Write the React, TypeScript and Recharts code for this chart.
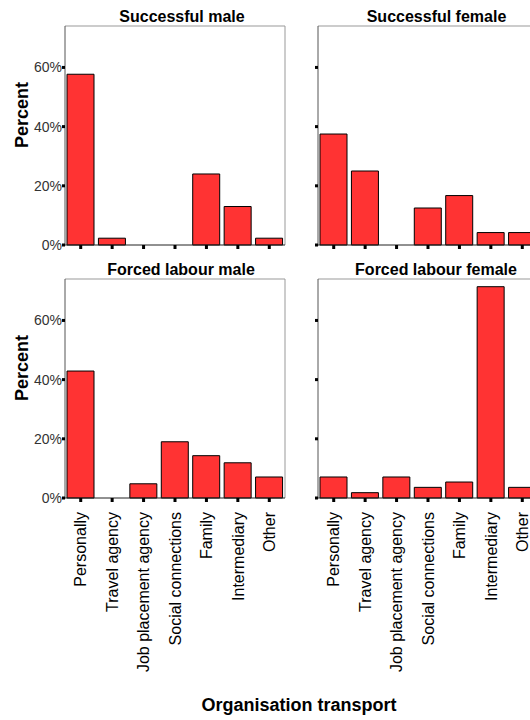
import { BarChart, Bar, XAxis, YAxis, CartesianGrid } from 'recharts';

// Organisation of transport, percent within each group
const categories = [
  'Personally',
  'Travel agency',
  'Job placement agency',
  'Social connections',
  'Family',
  'Intermediary',
  'Other',
];
const successfulMale = [57.7, 2.3, 0, 0, 24.0, 13.0, 2.3];
const successfulFemale = [37.5, 25.0, 0, 12.5, 16.7, 4.2, 4.2];
const forcedMale = [42.9, 0, 4.8, 19.0, 14.3, 11.9, 7.1];
const forcedFemale = [7.1, 1.8, 7.1, 3.6, 5.4, 71.4, 3.6];
const yTicks = [0, 20, 40, 60];
const yMax = 74;

const FONT = '"Liberation Sans", Arial, sans-serif';
const RED = '#ff3333';

const makeYTick = (showLabel: boolean) => (props: any) => {
  const { x, y, payload } = props;
  return (
    <g>
      <rect x={x - 3} y={y - 1.5} width={3} height={3} fill="#000" />
      {showLabel && (
        <text x={x - 3} y={y} dy="0.35em" textAnchor="end" fontSize={14} fontFamily={FONT} fill="#333">
          {payload.value}%
        </text>
      )}
    </g>
  );
};

const makeXTick = (showLabel: boolean) => (props: any) => {
  const { x, y, payload } = props;
  const ly = y + 14;
  return (
    <g>
      <rect x={x - 1.5} y={y} width={3} height={4} fill="#000" />
      {showLabel && (
        <text
          x={x}
          y={ly}
          dy="0.36em"
          transform={`rotate(-90 ${x} ${ly})`}
          textAnchor="end"
          fontSize={16}
          fontFamily={FONT}
          fill="#000"
        >
          {payload.value}
        </text>
      )}
    </g>
  );
};

// frame lines along the top and right edges of the plot area
const topEdge = ({ offset }: any) => [offset.top];
const rightEdge = ({ offset }: any) => [offset.left + offset.width];

interface PanelProps {
  values: number[];
  left: number;
  top: number;
  width: number;
  height: number;
  yAxisWidth: number;
  marginTop: number;
  marginRight: number;
  xAxisHeight: number;
  yLabels: boolean;
  xLabels: boolean;
}

function Panel(p: PanelProps) {
  const data = categories.map((name, i) => ({ name, value: p.values[i] }));
  return (
    <div style={{ position: 'absolute', left: p.left, top: p.top }}>
      <BarChart
        width={p.width}
        height={p.height}
        data={data}
        barSize={27}
        margin={{ top: p.marginTop, right: p.marginRight, bottom: 0, left: 0 }}
      >
        <CartesianGrid
          stroke="#999"
          fill="none"
          horizontalCoordinatesGenerator={topEdge}
          verticalCoordinatesGenerator={rightEdge}
        />
        <XAxis
          dataKey="name"
          interval={0}
          height={p.xAxisHeight}
          tickSize={0}
          tickMargin={0}
          tickLine={false}
          axisLine={{ stroke: '#222' }}
          tick={makeXTick(p.xLabels)}
        />
        <YAxis
          domain={[0, yMax]}
          ticks={yTicks}
          width={p.yAxisWidth}
          tickSize={0}
          tickMargin={0}
          tickLine={false}
          axisLine={{ stroke: '#555' }}
          tick={makeYTick(p.yLabels)}
        />
        <Bar dataKey="value" fill={RED} stroke="#000" strokeWidth={1} isAnimationActive={false} />
      </BarChart>
    </div>
  );
}

export default function App() {
  return (
    <div
      style={{
        position: 'fixed',
        left: 0,
        top: 0,
        width: 530,
        height: 720,
        overflow: 'hidden',
        background: '#fff',
        fontFamily: FONT,
      }}
    >
      <Panel values={successfulMale} left={0} top={0} width={300} height={260} yAxisWidth={65}
        marginTop={26} marginRight={15} xAxisHeight={15} yLabels xLabels={false} />
      <Panel values={successfulFemale} left={300} top={0} width={245} height={260} yAxisWidth={18}
        marginTop={26} marginRight={7} xAxisHeight={15} yLabels={false} xLabels={false} />
      <Panel values={forcedMale} left={0} top={260} width={300} height={460} yAxisWidth={65}
        marginTop={19} marginRight={15} xAxisHeight={222} yLabels xLabels />
      <Panel values={forcedFemale} left={300} top={260} width={245} height={460} yAxisWidth={18}
        marginTop={19} marginRight={7} xAxisHeight={222} yLabels={false} xLabels />

      <svg
        width={530}
        height={720}
        style={{ position: 'absolute', left: 0, top: 0, pointerEvents: 'none' }}
        fontFamily={FONT}
      >
        <text x={182} y={21.5} textAnchor="middle" fontSize={16} fontWeight="bold">Successful male</text>
        <text x={436.5} y={21.5} textAnchor="middle" fontSize={16} fontWeight="bold">Successful female</text>
        <text x={181} y={275} textAnchor="middle" fontSize={16} fontWeight="bold">Forced labour male</text>
        <text x={436} y={275} textAnchor="middle" fontSize={16} fontWeight="bold">Forced labour female</text>
        <text x={28} y={115} transform="rotate(-90 28 115)" textAnchor="middle" fontSize={18} fontWeight="bold">Percent</text>
        <text x={28} y={368} transform="rotate(-90 28 368)" textAnchor="middle" fontSize={18} fontWeight="bold">Percent</text>
        <text x={299} y={711} textAnchor="middle" fontSize={18} fontWeight="bold">Organisation transport</text>
      </svg>
    </div>
  );
}
